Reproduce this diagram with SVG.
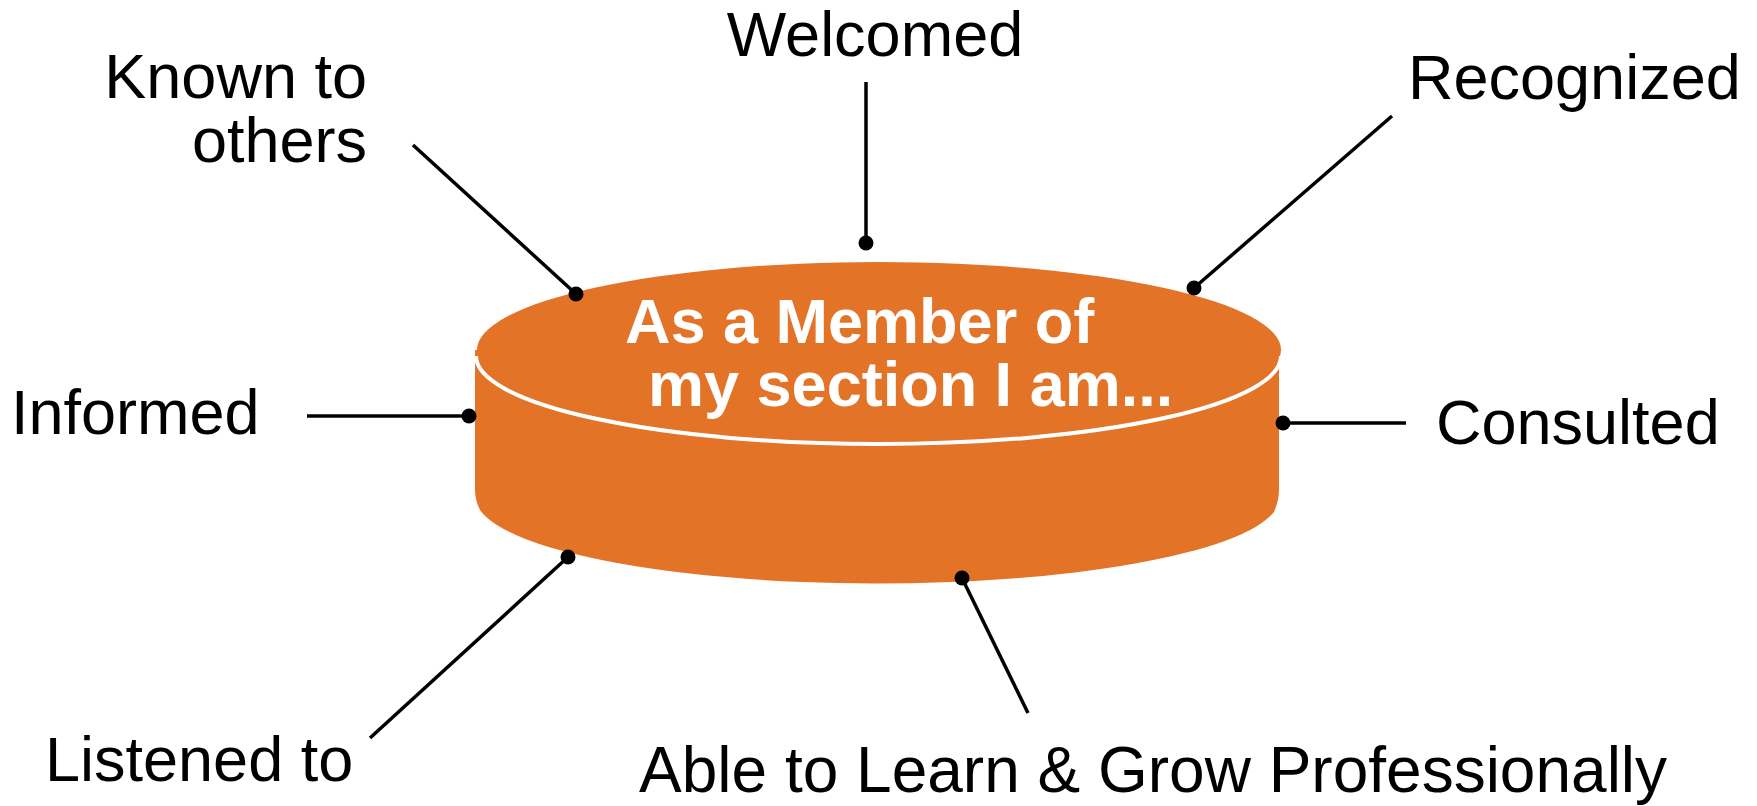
<svg xmlns="http://www.w3.org/2000/svg" width="1757" height="806" viewBox="0 0 1757 806">
<style>
.lbl{font-family:"Liberation Sans",Arial,sans-serif;font-size:63px;fill:#000}
.ttl{font-family:"Liberation Sans",Arial,sans-serif;font-size:63px;font-weight:bold;fill:#fff}
.con line{stroke:#000;stroke-width:3.5;fill:none}
.con circle{fill:#000}
</style>
<rect width="1757" height="806" fill="#fff"/>
<g id="cylinder">
<path d="M475,350 L475,490 Q475,500 480,510 A402,86 0 0 0 1274,512 Q1279,500 1279,490 L1279,350 Z" fill="#E27327"/>
<ellipse cx="879" cy="350" rx="402" ry="88" fill="#E27327"/>
<path d="M476,356 A402,88 0 0 0 1281,356" fill="none" stroke="#fff" stroke-width="4"/>
<text class="ttl" x="625" y="343">As a Member of</text>
<text class="ttl" x="648" y="406">my section I am...</text>
</g>
<g id="connectors" class="con">
<line x1="413" y1="145" x2="576" y2="294"/><circle cx="576" cy="294" r="7.5"/>
<line x1="866" y1="82" x2="866" y2="243"/><circle cx="866" cy="243" r="7.5"/>
<line x1="1392" y1="116" x2="1194" y2="288"/><circle cx="1194" cy="288" r="7.5"/>
<line x1="307" y1="416" x2="469" y2="416"/><circle cx="469" cy="416" r="7.5"/>
<line x1="1406" y1="423" x2="1283" y2="423"/><circle cx="1283" cy="423" r="7.5"/>
<line x1="370" y1="738" x2="568" y2="557"/><circle cx="568" cy="557" r="7.5"/>
<line x1="1028" y1="713" x2="962" y2="578"/><circle cx="962" cy="578" r="7.5"/>
</g>
<g id="n-known"><text class="lbl" x="367" y="98" text-anchor="end">Known to</text><text class="lbl" x="367" y="162" text-anchor="end">others</text></g>
<g id="n-welcomed"><text class="lbl" x="875" y="56" text-anchor="middle">Welcomed</text></g>
<g id="n-recognized"><text class="lbl" x="1408" y="99">Recognized</text></g>
<g id="n-informed"><text class="lbl" x="11" y="434">Informed</text></g>
<g id="n-consulted"><text class="lbl" x="1436" y="444">Consulted</text></g>
<g id="n-listened"><text class="lbl" x="45" y="781">Listened to</text></g>
<g id="n-able"><text class="lbl" x="639" y="792" style="font-size:64px">Able to Learn &amp; Grow Professionally</text></g>
</svg>
